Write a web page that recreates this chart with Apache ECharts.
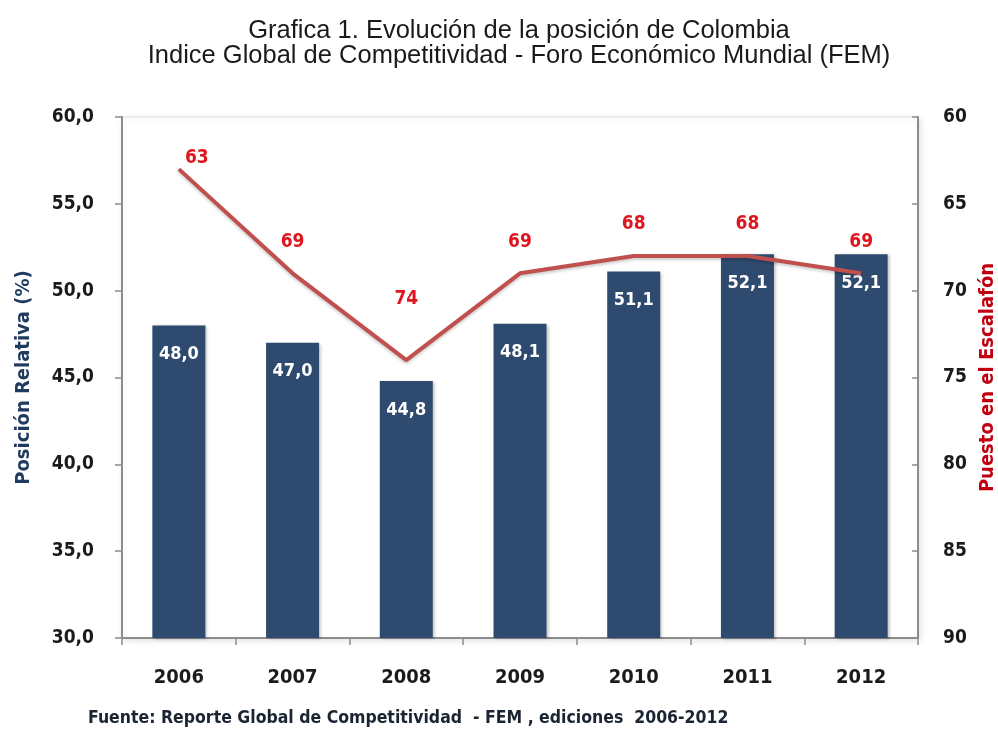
<!DOCTYPE html>
<html>
<head>
<meta charset="utf-8">
<script src="https://cdn.jsdelivr.net/npm/echarts@6/dist/echarts.min.js"></script>
<style>html,body{margin:0;padding:0;background:#fff;}#c{width:998px;height:731px;}</style>
</head>
<body>
<div id="c"></div>
<script>
const categories = ['2006', '2007', '2008', '2009', '2010', '2011', '2012'];
const posicionRelativa = [48.0, 47.0, 44.8, 48.1, 51.1, 52.1, 52.1];
const puestoEscalafon = [63, 69, 74, 69, 68, 68, 69];
const leftTicks = { min: 30, max: 60, interval: 5 };
const rightTicks = { min: 60, max: 90, interval: 5 };

const condensed = '"Liberation Sans Narrow", "DejaVu Sans Condensed", sans-serif';
// label nudges (style only)
const lineLabelOffsets = [[18, 20], [0, 0], [0, -30], [0, 0], [0, 0], [0, 0], [0, 0]];

const chart = echarts.init(document.getElementById('c'));
const lineData = puestoEscalafon.map((v, i) => ({
  value: v,
  label: { offset: lineLabelOffsets[i] }
}));

const titleFont = { fontFamily: '"Liberation Sans", Arial, sans-serif', fontSize: 25.5, fontWeight: 'normal', color: '#1a1a1a' };

chart.setOption({
  backgroundColor: '#ffffff',
  animation: false,
  title: [{
    text: 'Grafica 1. Evolución de la posición de Colombia',
    left: 519, textAlign: 'center', top: 18, padding: 0,
    textStyle: titleFont
  }, {
    text: 'Indice Global de Competitividad - Foro Económico Mundial (FEM)',
    left: 519, textAlign: 'center', top: 43, padding: 0,
    textStyle: titleFont
  }, {
    text: 'Fuente: Reporte Global de Competitividad  - FEM , ediciones  2006-2012',
    left: 88,
    top: 709,
    padding: 0,
    textStyle: { fontFamily: condensed, fontSize: 17.5, fontWeight: 'bold', color: '#1b2433' }
  }],
  grid: {
    left: 122, right: 80, top: 117, bottom: 93,
    outerBoundsMode: 'none',
    containLabel: false,
    show: true,
    backgroundColor: '#ffffff',
    borderColor: '#e3e3e3',
    borderWidth: 1,
    shadowColor: 'rgba(0,0,0,0.12)',
    shadowBlur: 6,
    shadowOffsetX: 2,
    shadowOffsetY: 2
  },
  xAxis: {
    type: 'category',
    data: categories,
    axisLine: { lineStyle: { color: '#8c8c8c', width: 2 } },
    axisTick: { show: true, length: 7, lineStyle: { color: '#8c8c8c', width: 1.5 } },
    axisLabel: { margin: 30, fontFamily: condensed, fontSize: 20, fontWeight: 'bold', color: '#1b1b1b' }
  },
  yAxis: [{
    type: 'value',
    min: leftTicks.min, max: leftTicks.max, interval: leftTicks.interval,
    name: 'Posición Relativa (%)',
    nameLocation: 'middle',
    nameGap: 88,
    nameRotate: 90,
    nameTextStyle: { fontFamily: condensed, fontSize: 20, fontWeight: 'bold', color: '#1f3a5f' },
    axisLine: { show: true, lineStyle: { color: '#8c8c8c', width: 2 } },
    axisTick: { show: true, length: 7, lineStyle: { color: '#8c8c8c', width: 1.5 } },
    splitLine: { show: false },
    axisLabel: {
      margin: 28, fontFamily: condensed, fontSize: 19, fontWeight: 'bold', color: '#1b1b1b',
      formatter: v => v.toFixed(1).replace('.', ',')
    }
  }, {
    type: 'value',
    position: 'right',
    inverse: true,
    min: rightTicks.min, max: rightTicks.max, interval: rightTicks.interval,
    name: 'Puesto en el Escalafón',
    nameLocation: 'middle',
    nameGap: 51,
    nameRotate: 90,
    nameTextStyle: { fontFamily: condensed, fontSize: 20, fontWeight: 'bold', color: '#c00010' },
    axisLine: { show: true, lineStyle: { color: '#8c8c8c', width: 2 } },
    axisTick: { show: true, inside: true, length: 6, lineStyle: { color: '#8c8c8c', width: 1.5 } },
    splitLine: { show: false },
    axisLabel: { margin: 25, fontFamily: condensed, fontSize: 19, fontWeight: 'bold', color: '#1b1b1b' }
  }],
  series: [{
    type: 'bar',
    data: posicionRelativa,
    yAxisIndex: 0,
    barWidth: 53,
    itemStyle: { color: '#2e4a6e', shadowColor: 'rgba(0,0,0,0.25)', shadowBlur: 3, shadowOffsetX: 2, shadowOffsetY: 1 },
    label: {
      show: true, position: 'insideTop', distance: 20,
      fontFamily: condensed, fontSize: 18, fontWeight: 'bold', color: '#ffffff',
      formatter: p => p.value.toFixed(1).replace('.', ',')
    },
    z: 2
  }, {
    type: 'line',
    data: lineData,
    yAxisIndex: 1,
    symbol: 'circle',
    symbolSize: 0,
    showSymbol: true,
    itemStyle: { color: '#c0504d' },
    lineStyle: { color: '#c0504d', width: 4, shadowColor: 'rgba(0,0,0,0.2)', shadowBlur: 3, shadowOffsetY: 2 },
    label: {
      show: true, position: 'top', distance: 22,
      fontFamily: condensed, fontSize: 19, fontWeight: 'bold', color: '#e0161e'
    },
    z: 3
  }]
});
</script>
</body>
</html>
